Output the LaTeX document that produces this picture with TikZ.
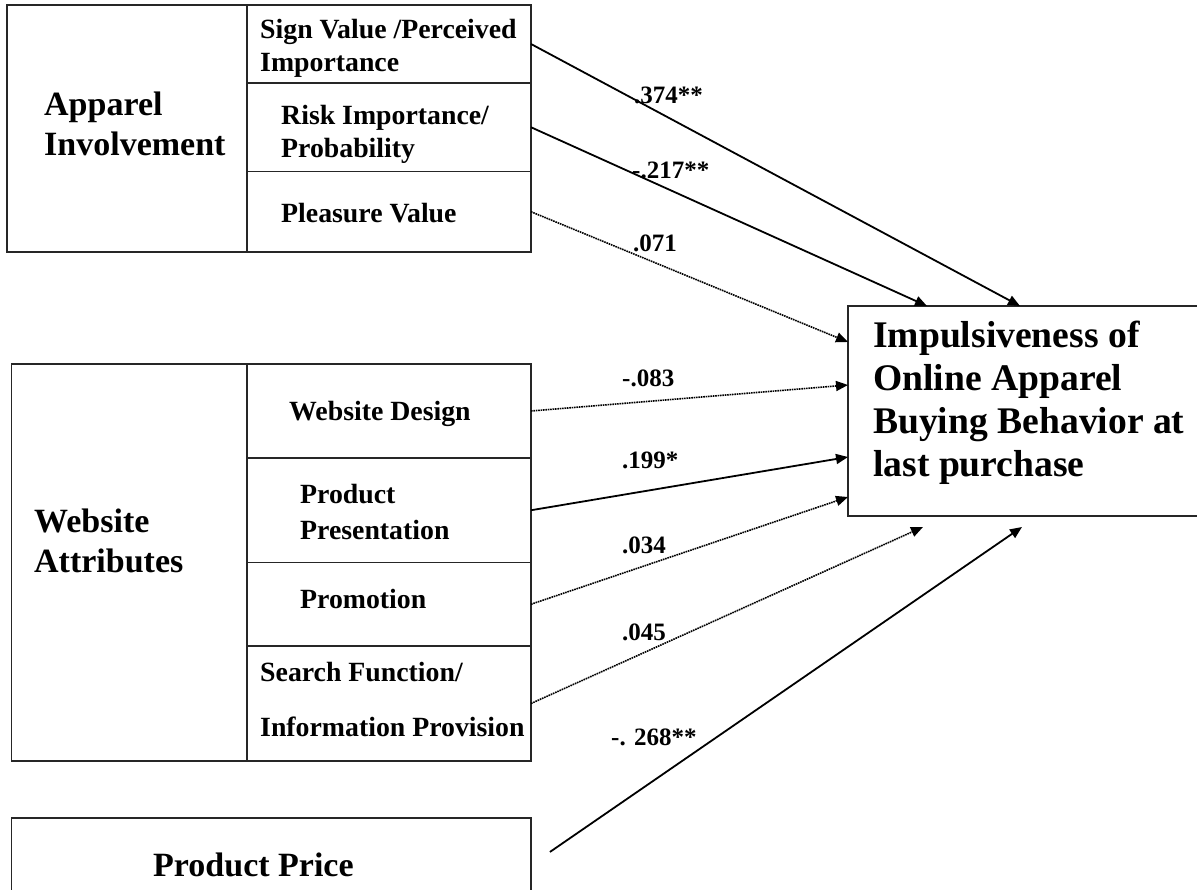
\documentclass[tikz,border=0pt]{standalone}
\usepackage{fontspec}
\setmainfont{Liberation Serif}
\usepackage{xcolor}
\usepackage{tikz}
\usetikzlibrary{shapes,arrows,arrows.meta,positioning}

\tikzset{
    cell/.style={draw=black!85, line width=1.2pt, inner sep=0pt, outer sep=0pt, anchor=north west},
    sublbl/.style={font=\fontsize{27.8}{33}\selectfont\bfseries, align=left, inner sep=0pt, anchor=west},
    grplbl/.style={font=\fontsize{34}{40}\selectfont\bfseries, align=left, inner sep=0pt, anchor=west},
    outlbl/.style={font=\fontsize{37.6}{43}\selectfont\bfseries, align=left, inner sep=0pt, anchor=west},
    coef/.style={font=\fontsize{25}{29}\selectfont\bfseries, inner sep=0pt, anchor=west},
    sig/.style={line width=1.8pt, -{Triangle[length=12pt,width=10pt]}},
    nonsig/.style={line width=1.6pt, dash pattern=on 1.6pt off 0.8pt, -{Triangle[length=12pt,width=10pt]}}
}

\begin{document}
\begin{tikzpicture}[x=1pt, y=-1pt]
    \useasboundingbox (0,0) rectangle (1197,890);
    \clip (0,0) rectangle (1197,890);

    % apparel involvement block
    \node[cell, minimum width=240pt, minimum height=247pt] (appinv) at (7,5) {};
    \node[cell, minimum width=284pt, minimum height=78pt] (sign) at (appinv.north east) {};
    \node[cell, minimum width=284pt, minimum height=88.5pt] (risk) at (sign.south west) {};
    \node[cell, minimum width=284pt, minimum height=80.5pt] (pleasure) at (risk.south west) {};

    \node[grplbl] (appinvtxt) at (44,124) {Apparel\\Involvement};
    \node[sublbl] (signtxt) at (260,48) {Sign Value /Perceived\\Importance};
    \node[sublbl] (risktxt) at (281,134) {Risk Importance/\\Probability};
    \node[sublbl] (pleasuretxt) at (281,213) {Pleasure Value};

    % website attributes block
    \node[cell, minimum width=235.5pt, minimum height=397pt] (webattr) at (11.5,364) {};
    \node[cell, minimum width=284pt, minimum height=94pt] (design) at (webattr.north east) {};
    \node[cell, minimum width=284pt, minimum height=104.5pt] (present) at (design.south west) {};
    \node[cell, minimum width=284pt, minimum height=83.5pt] (promo) at (present.south west) {};
    \node[cell, minimum width=284pt, minimum height=115pt] (search) at (promo.south west) {};

    \node[grplbl] (webattrtxt) at (34,541) {Website\\Attributes};
    \node[sublbl] (designtxt) at (289,414) {Website Design};
    \node[sublbl] (presenttxt) at (300,512) {Product\\[3pt]Presentation};
    \node[sublbl] (promotxt) at (300,599) {Promotion};
    \node[sublbl] (searchtxt) at (260,699) {Search Function/\\[22pt]Information Provision};

    % price
    \node[cell, minimum width=519.5pt, minimum height=94pt] (price) at (11.5,818) {};
    \node[grplbl] (pricetxt) at (153,865) {Product Price};

    % outcome
    \node[cell, minimum width=362pt, minimum height=210pt] (impulse) at (848,306) {};
    \node[outlbl] (impulsetxt) at (873,403) {Impulsiveness of\\Online Apparel\\Buying Behavior at\\last purchase};

    % paths
    \draw[sig] (sign.east) -- ([xshift=172pt]impulse.north west);
    \draw[sig] (risk.east) -- ([xshift=79pt]impulse.north west);
    \draw[nonsig] (pleasure.east) -- ([yshift=-36pt]impulse.north west);
    \draw[nonsig] (design.east) -- ([yshift=-79pt]impulse.north west);
    \draw[sig] (present.east) -- ([yshift=-151pt]impulse.north west);
    \draw[nonsig] (promo.east) -- ([yshift=-191pt]impulse.north west);
    \draw[nonsig] (search.east) -- ([xshift=75pt,yshift=-11pt]impulse.south west);
    \draw[sig, shorten <=23pt] (price.east) -- ([xshift=174pt,yshift=-11pt]impulse.south west);

    % coefficients
    \node[coef] (c1) at (634,95) {.374**};
    \node[coef] (c2) at (632,170) {-.217**};
    \node[coef] (c3) at (633,243) {.071};
    \node[coef] (c4) at (622,378) {-.083};
    \node[coef] (c5) at (622,460) {.199*};
    \node[coef] (c6) at (622,545) {.034};
    \node[coef] (c7) at (622,632) {.045};
    \node[coef] (c8) at (611,737) {-. 268**};
\end{tikzpicture}
\end{document}
